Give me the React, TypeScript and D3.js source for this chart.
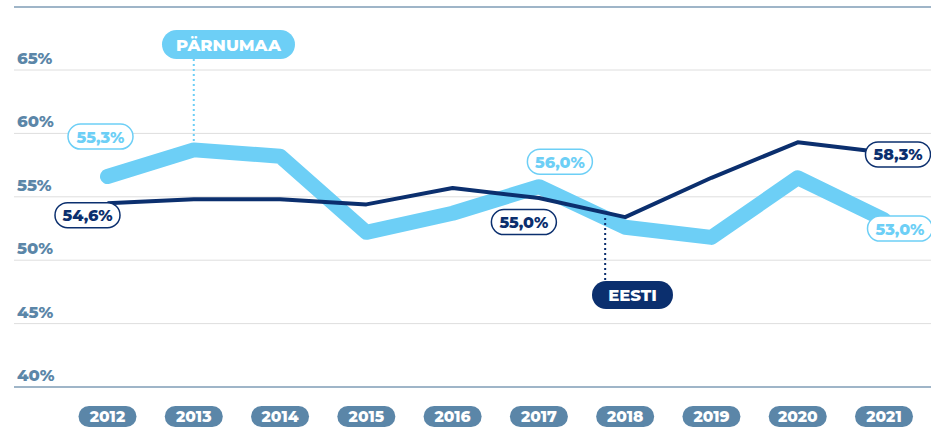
import React, { useRef, useEffect } from "react";
import * as d3 from "d3";

// Years on the x axis
const years = [2012, 2013, 2014, 2015, 2016, 2017, 2018, 2019, 2020, 2021];

// Pärnumaa (light, thick) and Eesti (navy, thin), in percent
const parnumaa = [56.6, 58.7, 58.2, 52.2, 53.7, 55.8, 52.6, 51.8, 56.5, 53.2];
const eesti = [54.5, 54.8, 54.8, 54.4, 55.7, 54.9, 53.4, 56.5, 59.3, 58.5];

// y tick values
const yTicks = [40, 45, 50, 55, 60, 65];

// value labels: year, series, text
const valueLabels = [
  { year: 2012, series: "p", text: "55,3%", dx: -7, dy: -40 },
  { year: 2012, series: "e", text: "54,6%", dx: -20, dy: 12 },
  { year: 2017, series: "e", text: "55,0%", dx: -15, dy: 24 },
  { year: 2017, series: "p", text: "56,0%", dx: 21, dy: -25 },
  { year: 2021, series: "e", text: "58,3%", dx: 14, dy: 2 },
  { year: 2021, series: "p", text: "53,0%", dx: 16, dy: 9 },
];

const LIGHT = "#6dcff6";
const NAVY = "#0b2f6e";
const STEEL = "#5b86a8";
const FONT = "Montserrat, 'Open Sans', sans-serif";

const W = 931;
const H = 427;

export default function App() {
  const ref = useRef<SVGSVGElement>(null);

  useEffect(() => {
    if (!ref.current) return;
    const svg = d3.select(ref.current);
    svg.selectAll("*").remove();

    const x = d3.scaleLinear().domain([2012, 2021]).range([107.5, 884]);
    const y = d3.scaleLinear().domain([40, 65]).range([387, 70]);

    // top rule
    svg.append("line")
      .attr("x1", 14).attr("x2", W).attr("y1", 7).attr("y2", 7)
      .attr("stroke", "#7f9db6").attr("stroke-width", 1.5);

    // grid + y labels
    yTicks.forEach((t) => {
      svg.append("line")
        .attr("x1", 14).attr("x2", W)
        .attr("y1", y(t)).attr("y2", y(t))
        .attr("stroke", t === 40 ? "#7f9db6" : "#dedede")
        .attr("stroke-width", t === 40 ? 1.5 : 1);
      svg.append("text")
        .attr("x", 17).attr("y", y(t) - 6)
        .attr("fill", STEEL)
        .attr("font-family", FONT).attr("font-weight", 800)
        .attr("font-size", 16.5)
        .text(`${t}%`);
    });

    // x labels as pills
    years.forEach((yr) => {
      const g = svg.append("g").attr("transform", `translate(${x(yr)},416)`);
      g.append("rect")
        .attr("x", -29).attr("y", -10).attr("width", 58).attr("height", 21)
        .attr("rx", 10.5).attr("fill", STEEL);
      g.append("text")
        .attr("text-anchor", "middle").attr("y", 6)
        .attr("fill", "#fff")
        .attr("font-family", FONT).attr("font-weight", 800)
        .attr("font-size", 15.5)
        .text(yr);
    });

    const line = d3.line<number>()
      .x((_, i) => x(years[i]))
      .y((d) => y(d));

    svg.append("path")
      .datum(parnumaa)
      .attr("d", line)
      .attr("fill", "none")
      .attr("stroke", LIGHT)
      .attr("stroke-width", 15)
      .attr("stroke-linejoin", "round")
      .attr("stroke-linecap", "round");

    svg.append("path")
      .datum(eesti)
      .attr("d", line)
      .attr("fill", "none")
      .attr("stroke", NAVY)
      .attr("stroke-width", 4)
      .attr("stroke-linejoin", "round");

    // series name callouts
    const p13 = y(parnumaa[1]);
    svg.append("line")
      .attr("x1", x(2013)).attr("x2", x(2013))
      .attr("y1", 59).attr("y2", p13 - 7)
      .attr("stroke", LIGHT).attr("stroke-width", 2)
      .attr("stroke-dasharray", "2 3");
    const pg = svg.append("g").attr("transform", "translate(228.5,44.5)");
    pg.append("rect")
      .attr("x", -66.5).attr("y", -14.5).attr("width", 133).attr("height", 29)
      .attr("rx", 14.5).attr("fill", LIGHT);
    pg.append("text")
      .attr("text-anchor", "middle").attr("y", 6)
      .attr("fill", "#fff")
      .attr("font-family", FONT).attr("font-weight", 800)
      .attr("font-size", 16.5)
      .text("PÄRNUMAA");

    const eX = x(2018) - 20;
    svg.append("line")
      .attr("x1", eX).attr("x2", eX)
      .attr("y1", 218).attr("y2", 280)
      .attr("stroke", NAVY).attr("stroke-width", 2)
      .attr("stroke-dasharray", "2 3");
    const eg = svg.append("g").attr("transform", "translate(632.5,295)");
    eg.append("rect")
      .attr("x", -40.5).attr("y", -14).attr("width", 81).attr("height", 28)
      .attr("rx", 14).attr("fill", NAVY);
    eg.append("text")
      .attr("text-anchor", "middle").attr("y", 6)
      .attr("fill", "#fff")
      .attr("font-family", FONT).attr("font-weight", 800)
      .attr("font-size", 16.5)
      .text("EESTI");

    // value labels
    valueLabels.forEach((l) => {
      const i = years.indexOf(l.year);
      const v = l.series === "p" ? parnumaa[i] : eesti[i];
      const c = l.series === "p" ? LIGHT : NAVY;
      const g = svg.append("g")
        .attr("transform", `translate(${x(l.year) + l.dx},${y(v) + l.dy})`);
      g.append("rect")
        .attr("x", -32.5).attr("y", -12.5).attr("width", 65).attr("height", 25)
        .attr("rx", 12.5).attr("fill", "#fff")
        .attr("stroke", c).attr("stroke-width", 1.5);
      g.append("text")
        .attr("text-anchor", "middle").attr("y", 6)
        .attr("fill", c)
        .attr("font-family", FONT).attr("font-weight", 800)
        .attr("font-size", 16)
        .text(l.text);
    });
  }, []);

  return (
    <svg
      ref={ref}
      width={W}
      height={H}
      style={{ position: "absolute", left: 0, top: 0, background: "#fff" }}
    />
  );
}
